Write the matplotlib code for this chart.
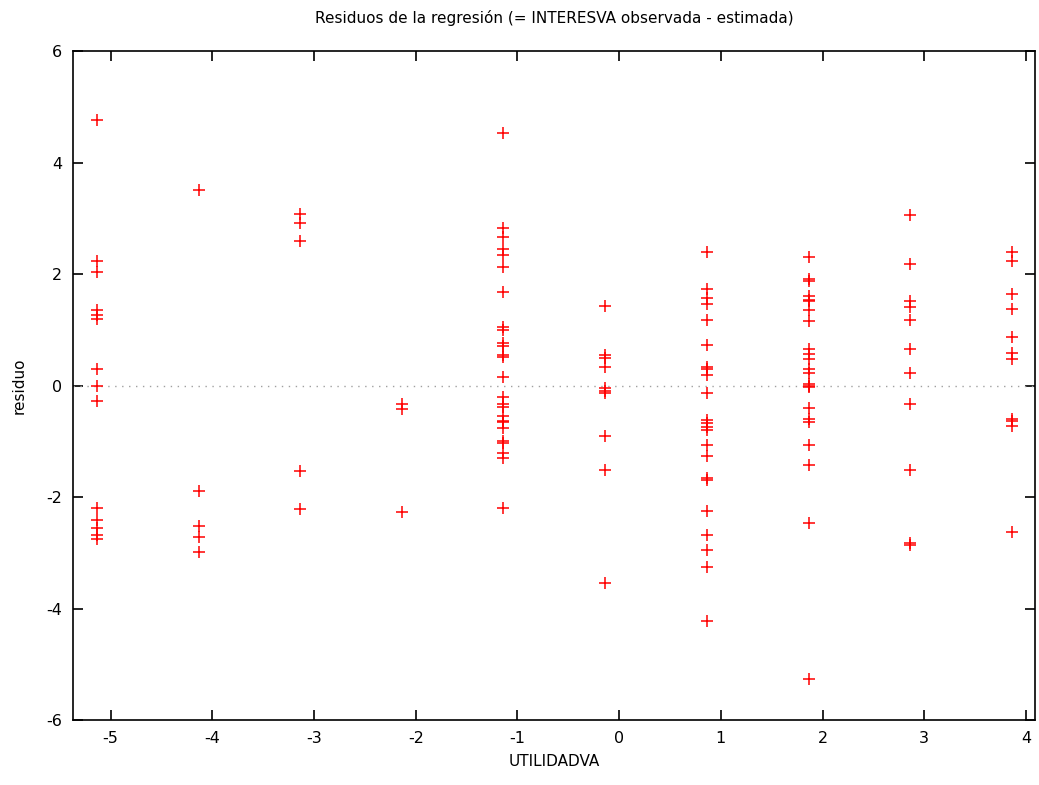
import numpy as np
import matplotlib
matplotlib.use('Agg')
import matplotlib.pyplot as plt

plt.rcParams['axes.unicode_minus'] = False

# valores de UTILIDADVA (centrada) y residuos por columna
x_niveles = [-5.135, -4.135, -3.135, -2.14, -1.14, -0.137, 0.868, 1.868, 2.865, 3.865]

residuos = [
    [4.77, 2.23, 2.03, 1.35, 1.27, 1.20, 0.30, 0.0, -0.27, -2.19, -2.42, -2.56, -2.69, -2.75],
    [3.51, -1.90, -2.52, -2.71, -2.98],
    [3.07, 2.91, 2.60, -1.54, -2.22],
    [-0.34, -0.43, -2.26],
    [4.53, 2.82, 2.67, 2.44, 2.34, 2.12, 1.67, 1.05, 0.99, 0.77, 0.70, 0.54, 0.51, 0.15,
     -0.21, -0.34, -0.38, -0.55, -0.64, -0.66, -0.76, -1.00, -1.03, -1.21, -1.30, -2.19],
    [1.43, 0.54, 0.49, 0.33, -0.04, -0.09, -0.14, -0.91, -1.51, -3.55],
    [2.39, 1.73, 1.57, 1.47, 1.17, 0.72, 0.33, 0.30, 0.18, -0.13, -0.62, -0.68, -0.75,
     -0.79, -1.06, -1.27, -1.66, -1.69, -2.25, -2.68, -2.95, -3.25, -4.22],
    [2.30, 1.91, 1.88, 1.60, 1.54, 1.51, 1.35, 1.15, 0.66, 0.57, 0.48, 0.30, 0.22, 0.03,
     0.0, -0.03, -0.40, -0.60, -0.66, -1.06, -1.42, -2.46, -5.26],
    [3.06, 2.18, 1.52, 1.41, 1.17, 0.65, 0.23, -0.34, -1.51, -2.83, -2.86],
    [2.40, 2.24, 1.64, 1.38, 0.87, 0.58, 0.47, -0.60, -0.64, -0.72, -2.62],
]

x = np.concatenate([[xv] * len(r) for xv, r in zip(x_niveles, residuos)])
y = np.concatenate(residuos)

fig = plt.figure(figsize=(10.39, 7.85), dpi=100)
ax = fig.add_axes([0.0703, 0.0828, 0.9259, 0.8522])

ax.axhline(0, color='#a0a0a0', linestyle=(0, (1, 4)), linewidth=1)
ax.plot(x, y, '+', color='red', markersize=9, markeredgewidth=1.1)

ax.set_xlim(-5.37, 4.09)
ax.set_ylim(-6, 6)
ax.set_xticks(range(-5, 5))
ax.set_yticks(range(-6, 7, 2))
ax.tick_params(direction='in', length=7, width=1.2, top=True, right=True,
               labelsize=11.5, colors='black', pad=8)
for s in ax.spines.values():
    s.set_linewidth(1.2)

ax.set_xlabel('UTILIDADVA', fontsize=11, labelpad=6)
ax.set_ylabel('residuo', fontsize=11, labelpad=14)
ax.set_title('Residuos de la regresión (= INTERESVA observada - estimada)', fontsize=11, pad=20)

fig.savefig('out.png', dpi=100)
